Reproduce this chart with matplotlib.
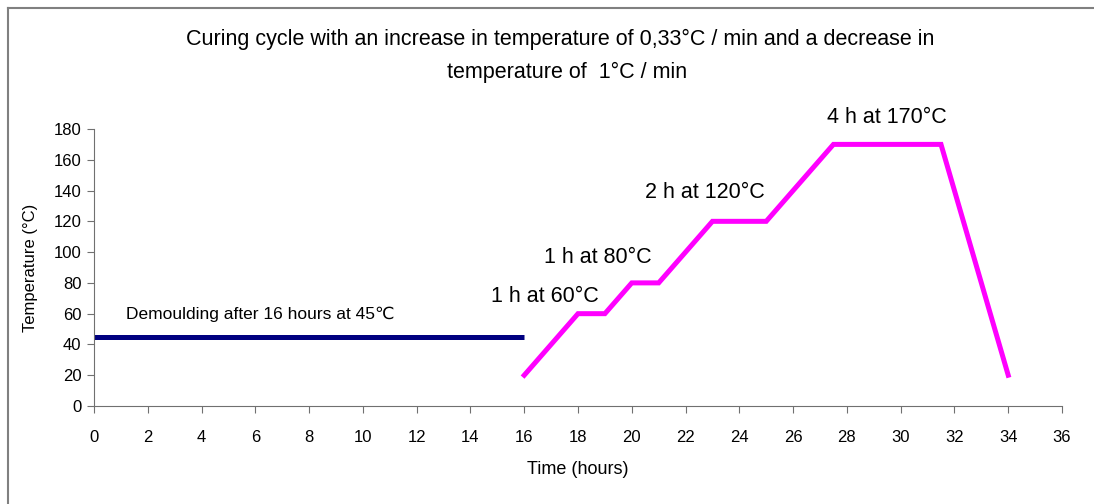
import matplotlib.pyplot as plt
from matplotlib.lines import Line2D

plt.rcParams['font.family'] = ['Liberation Sans', 'DejaVu Sans']

# demoulding step
demould_t = [0, 16]
demould_T = [45, 45]

# curing cycle
cure_t = [16, 18, 19, 20, 21, 23, 25, 27.5, 31.5, 34]
cure_T = [20, 60, 60, 80, 80, 120, 120, 170, 170, 20]

xticks = list(range(0, 37, 2))
yticks = list(range(0, 181, 20))

labels = ['1 h at 60°C', '1 h at 80°C', '2 h at 120°C', '4 h at 170°C']
label_x = [16.77, 18.74, 22.7, 29.5]
label_y = [71.4, 96.8, 139, 187.7]

fig = plt.figure(figsize=(10.94, 5.04), dpi=100)
ax = fig.add_axes([94/1094, 1-406/504, 968/1094, 277/504])

ax.plot(demould_t, demould_T, color='#000080', lw=3.6, solid_capstyle='butt')
ax.plot(cure_t, cure_T, color='#FF00FF', lw=3.6, solid_joinstyle='miter')

ax.set_xlim(0, 36)
ax.set_ylim(0, 180)
ax.set_xticks(xticks)
ax.set_yticks(yticks)
ax.tick_params(labelsize=12, length=5, color='#707070')
ax.tick_params(axis='x', pad=12)
ax.tick_params(axis='y', pad=4)
for s in ['top', 'right']:
    ax.spines[s].set_visible(False)
for s in ['left', 'bottom']:
    ax.spines[s].set_color('#707070')

for txt, x, y in zip(labels, label_x, label_y):
    ax.text(x, y, txt, ha='center', va='center', fontsize=15.5, clip_on=False)

ax.text(1.19, 59.7, 'Demoulding after 16 hours at 45℃', ha='left', va='center', fontsize=12.5)

ax.set_xlabel('Time (hours)', fontsize=13, labelpad=12)
ax.set_ylabel('Temperature (°C)', fontsize=12, labelpad=11)

fig.text(560/1094, 1-39/504, 'Curing cycle with an increase in temperature of 0,33°C / min and a decrease in',
         ha='center', va='center', fontsize=15.5)
fig.text(567/1094, 1-72/504, 'temperature of  1°C / min', ha='center', va='center', fontsize=15.5)

# chart frame
fig.add_artist(Line2D([8/1094, 1093/1094], [1-8/504, 1-8/504], color='#808080', lw=1.5))
fig.add_artist(Line2D([8/1094, 8/1094], [0, 1-8/504], color='#808080', lw=1.5))

fig.savefig('out.png', dpi=100)
